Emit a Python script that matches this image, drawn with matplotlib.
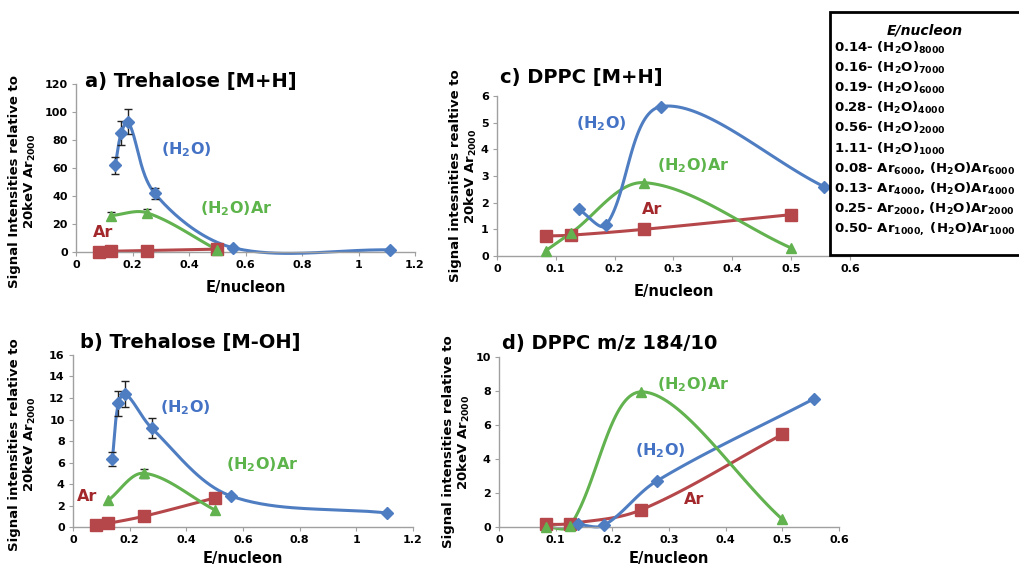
import numpy as np
import matplotlib
matplotlib.use('Agg')
import matplotlib.pyplot as plt
from matplotlib.patches import Rectangle

plt.rcParams['font.family'] = ['DejaVu Sans']
plt.rcParams['font.weight'] = 'bold'
plt.rcParams['mathtext.fontset'] = 'dejavusans'
plt.rcParams['mathtext.default'] = 'bf'

# ---- data ----
# a) Trehalose [M+H]
a_h2o_x = [0.139, 0.16, 0.185, 0.278, 0.556, 1.11]
a_h2o_y = [62, 85, 93, 42, 3, 1.5]
a_h2o_err = [6, 8.5, 9, 4, 0, 0]
a_h2oar_x = [0.125, 0.25, 0.5]
a_h2oar_y = [26, 28, 1.5]
a_h2oar_err = [2.5, 2.7, 0]
a_ar_x = [0.083, 0.125, 0.25, 0.5]
a_ar_y = [0.3, 0.5, 1.0, 2.0]

# b) Trehalose [M-OH]
b_h2o_x = [0.139, 0.16, 0.185, 0.278, 0.556, 1.11]
b_h2o_y = [6.3, 11.5, 12.4, 9.2, 2.9, 1.3]
b_h2o_err = [0.65, 1.15, 1.2, 0.9, 0, 0]
b_h2oar_x = [0.125, 0.25, 0.5]
b_h2oar_y = [2.5, 5.0, 1.6]
b_h2oar_err = [0, 0.4, 0]
b_ar_x = [0.083, 0.125, 0.25, 0.5]
b_ar_y = [0.2, 0.35, 1.0, 2.7]

# c) DPPC [M+H]
c_h2o_x = [0.139, 0.185, 0.278, 0.556]
c_h2o_y = [1.75, 1.15, 5.6, 2.6]
c_h2oar_x = [0.083, 0.125, 0.25, 0.5]
c_h2oar_y = [0.2, 0.85, 2.75, 0.3]
c_ar_x = [0.083, 0.125, 0.25, 0.5]
c_ar_y = [0.75, 0.78, 1.0, 1.55]

# d) DPPC m/z 184/10
d_h2o_x = [0.139, 0.185, 0.278, 0.556]
d_h2o_y = [0.15, 0.1, 2.7, 7.55]
d_h2oar_x = [0.083, 0.125, 0.25, 0.5]
d_h2oar_y = [0.0, 0.05, 7.95, 0.45]
d_ar_x = [0.083, 0.125, 0.25, 0.5]
d_ar_y = [0.15, 0.2, 1.0, 5.45]

titles = ['a) Trehalose [M+H]', 'b) Trehalose [M-OH]',
          'c) DPPC [M+H]', 'd) DPPC m/z 184/10']
ylabels = ['Signal Intensities relative to\n20keV Ar$_{2000}$',
           'Signal intensities relative to\n20keV Ar$_{2000}$',
           'Signal intesnities realtive to\n20keV Ar$_{2000}$',
           'Signal intensities relative to\n20keV Ar$_{2000}$']

legend_title = 'E/nucleon'
legend_lines = [
    '0.14- (H$_2$O)$_{8000}$',
    '0.16- (H$_2$O)$_{7000}$',
    '0.19- (H$_2$O)$_{6000}$',
    '0.28- (H$_2$O)$_{4000}$',
    '0.56- (H$_2$O)$_{2000}$',
    '1.11- (H$_2$O)$_{1000}$',
    '0.08- Ar$_{6000}$, (H$_2$O)Ar$_{6000}$',
    '0.13- Ar$_{4000}$, (H$_2$O)Ar$_{4000}$',
    '0.25- Ar$_{2000}$, (H$_2$O)Ar$_{2000}$',
    '0.50- Ar$_{1000,}$ (H$_2$O)Ar$_{1000}$',
]

BLUE = '#4f7dc2'
RED = '#b5474a'
GREEN = '#62b24f'
BLUE_T = '#4472c4'
GREEN_T = '#5cb44a'
RED_T = '#a3282b'


def smooth(ax, x, y, n=40):
    '''Excel-like smoothed line, done in screen space.
    tangents are split by the neighbour segment lengths so short
    segments do not overshoot'''
    x0, x1 = ax.get_xlim()
    y0, y1 = ax.get_ylim()
    bb = ax.get_position()
    sx = bb.width * 1019 / (x1 - x0)
    sy = bb.height * 570 / (y1 - y0)
    p = np.column_stack([np.asarray(x) * sx, np.asarray(y) * sy])
    npt = len(p)
    cin = p.copy()
    cout = p.copy()
    for i in range(npt):
        prv = p[i - 1] if i > 0 else p[i]
        nxt = p[i + 1] if i < npt - 1 else p[i]
        d = nxt - prv
        lp = np.hypot(*(p[i] - prv))
        ln = np.hypot(*(nxt - p[i]))
        if lp + ln == 0:
            continue
        cout[i] = p[i] + d * ln / (lp + ln) / 3
        cin[i] = p[i] - d * lp / (lp + ln) / 3
    out = [p[0]]
    t = np.linspace(0, 1, n)[1:, None]
    for i in range(npt - 1):
        pb, c1, c2, pc = p[i], cout[i], cin[i + 1], p[i + 1]
        seg = ((1 - t) ** 3 * pb + 3 * (1 - t) ** 2 * t * c1
               + 3 * (1 - t) * t ** 2 * c2 + t ** 3 * pc)
        out.extend(seg)
    out = np.array(out)
    return out[:, 0] / sx, out[:, 1] / sy


def draw_series(ax, x, y, color, marker, ms, err=None):
    sxs, sys_ = smooth(ax, x, y)
    ax.plot(sxs, sys_, color=color, lw=2.2, zorder=2, clip_on=False)
    if err is not None:
        e = np.array(err)
        m = e > 0
        ax.errorbar(np.array(x)[m], np.array(y)[m], yerr=e[m], fmt='none',
                    ecolor='#222222', elinewidth=1, capsize=3, capthick=1,
                    zorder=3)
    ax.plot(x, y, linestyle='none', marker=marker, ms=ms, color=color,
            zorder=4, clip_on=False)


def setup(ax, xlim, xticks, xlabels, ylim, yticks, xpad):
    ax.set_xlim(*xlim)
    ax.set_ylim(*ylim)
    ax.set_xticks(xticks)
    ax.set_xticklabels(xlabels)
    ax.set_yticks(yticks)
    for s in ['top', 'right']:
        ax.spines[s].set_visible(False)
    for s in ['left', 'bottom']:
        ax.spines[s].set_color('#a0a0a0')
        ax.spines[s].set_linewidth(1)
    ax.tick_params(direction='out', length=3, color='#a0a0a0',
                   labelsize=8, pad=3)
    ax.set_xlabel('E/nucleon', fontsize=10.5, fontweight='bold',
                  labelpad=xpad)


fig = plt.figure(figsize=(10.19, 5.70), dpi=100)
fig.patch.set_facecolor('white')

ax_a = fig.add_axes([0.0746, 0.558, 0.3327, 0.2947])
ax_c = fig.add_axes([0.4877, 0.5509, 0.3464, 0.2807])
ax_b = fig.add_axes([0.0716, 0.0754, 0.3337, 0.3018])
ax_d = fig.add_axes([0.4897, 0.0754, 0.3337, 0.2982])

x12 = [0, 0.2, 0.4, 0.6, 0.8, 1.0, 1.2]
x12l = ['0', '0.2', '0.4', '0.6', '0.8', '1', '1.2']
x06 = [0, 0.1, 0.2, 0.3, 0.4, 0.5, 0.6]
x06l = ['0', '0.1', '0.2', '0.3', '0.4', '0.5', '0.6']

setup(ax_a, (0, 1.2), x12, x12l, (0, 120), range(0, 121, 20), 7)
setup(ax_b, (0, 1.2), x12, x12l, (0, 16), range(0, 17, 2), 4)
setup(ax_c, (0, 0.6), x06, x06l, (0, 6), range(0, 7, 1), 7)
setup(ax_d, (0, 0.6), x06, x06l, (0, 10), range(0, 11, 2), 4)

# a
draw_series(ax_a, a_ar_x, a_ar_y, RED, 's', 8)
draw_series(ax_a, a_h2oar_x, a_h2oar_y, GREEN, '^', 7, a_h2oar_err)
draw_series(ax_a, a_h2o_x, a_h2o_y, BLUE, 'D', 6, a_h2o_err)
# b
draw_series(ax_b, b_ar_x, b_ar_y, RED, 's', 8)
draw_series(ax_b, b_h2oar_x, b_h2oar_y, GREEN, '^', 7, b_h2oar_err)
draw_series(ax_b, b_h2o_x, b_h2o_y, BLUE, 'D', 6, b_h2o_err)
# c
draw_series(ax_c, c_ar_x, c_ar_y, RED, 's', 8)
draw_series(ax_c, c_h2oar_x, c_h2oar_y, GREEN, '^', 7)
draw_series(ax_c, c_h2o_x, c_h2o_y, BLUE, 'D', 6)
# d
draw_series(ax_d, d_ar_x, d_ar_y, RED, 's', 8)
draw_series(ax_d, d_h2o_x, d_h2o_y, BLUE, 'D', 6)
draw_series(ax_d, d_h2oar_x, d_h2oar_y, GREEN, '^', 7)

# series labels
lab = dict(fontsize=11.5, fontweight='bold', va='center', ha='left')
ax_a.text(0.30, 73, '(H$_2$O)', color=BLUE_T, **lab)
ax_a.text(0.44, 31, '(H$_2$O)Ar', color=GREEN_T, **lab)
ax_a.text(0.06, 14, 'Ar', color=RED_T, **lab)
ax_b.text(0.307, 11.1, '(H$_2$O)', color=BLUE_T, **lab)
ax_b.text(0.54, 5.8, '(H$_2$O)Ar', color=GREEN_T, **lab)
ax_b.text(0.014, 2.8, 'Ar', color=RED_T, **lab)
ax_c.text(0.134, 4.95, '(H$_2$O)', color=BLUE_T, **lab)
ax_c.text(0.272, 3.4, '(H$_2$O)Ar', color=GREEN_T, **lab)
ax_c.text(0.246, 1.75, 'Ar', color=RED_T, **lab)
ax_d.text(0.24, 4.5, '(H$_2$O)', color=BLUE_T, **lab)
ax_d.text(0.279, 8.35, '(H$_2$O)Ar', color=GREEN_T, **lab)
ax_d.text(0.326, 1.6, 'Ar', color=RED_T, **lab)

# titles and y labels
title_pos = [(ax_a, 0.027, 0.982), (ax_b, 0.02, 1.04),
             (ax_c, 0.01, 1.08), (ax_d, 0.01, 1.047)]
ylab_pos = [(-0.112, 0.42), (-0.103, 0.48), (-0.05, 0.5), (-0.078, 0.5)]
for (ax, tx, ty), t, yl, (lx, ly) in zip(title_pos, titles, ylabels, ylab_pos):
    ax.text(tx, ty, t, transform=ax.transAxes, fontsize=14,
            fontweight='bold', va='baseline', ha='left')
    ax.set_ylabel(yl, fontsize=9.5, fontweight='bold', linespacing=1.1)
    ax.yaxis.set_label_coords(lx, ly)

# legend box (figure level, covers the right end of panel c)
box = Rectangle((830 / 1019, 1 - 255 / 570), 200 / 1019, 243 / 570,
                transform=fig.transFigure, facecolor='white',
                edgecolor='black', lw=2, zorder=10, clip_on=False)
fig.add_artist(box)
fig.text(925 / 1019, 1 - 30 / 570, legend_title, fontsize=10,
         fontweight='bold', style='italic', ha='center', va='center',
         zorder=11)
for i, line in enumerate(legend_lines):
    fig.text(834 / 1019, 1 - (48 + i * 20.1) / 570, line, fontsize=9.5,
             fontweight='bold', ha='left', va='center', zorder=11)

fig.savefig('out.png', dpi=100)
